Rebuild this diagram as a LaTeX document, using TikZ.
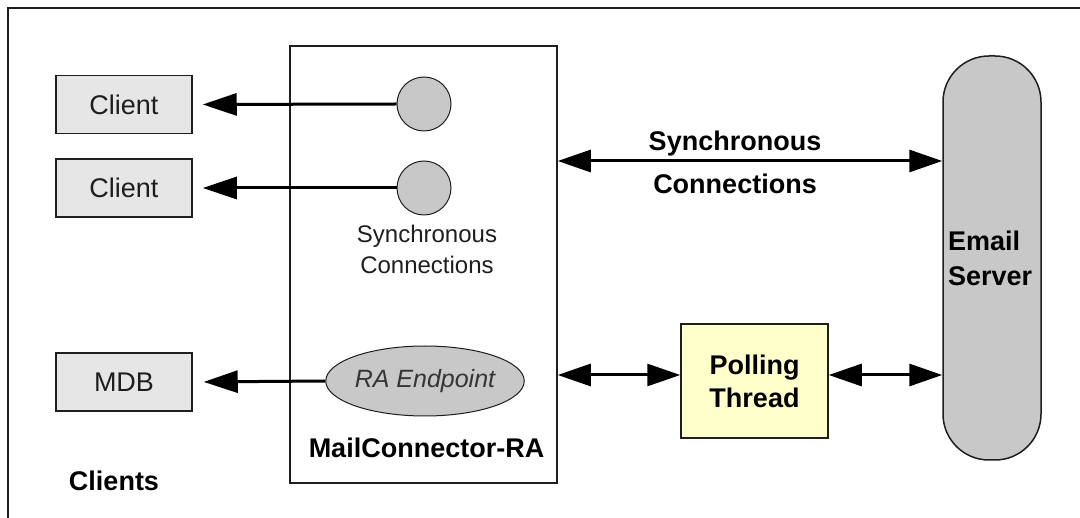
\documentclass[tikz,border=0pt]{standalone}
\usepackage{fontspec}
\setmainfont{Liberation Sans}
\usetikzlibrary{arrows.meta,shapes.geometric,calc}

\definecolor{boxgray}{HTML}{E6E6E6}
\definecolor{midgray}{HTML}{C8C8C8}
\definecolor{pale}{HTML}{FFFFCC}
\definecolor{ink}{HTML}{1E1E1E}

\begin{document}
\begin{tikzpicture}[x=1pt,y=-1pt,
  client/.style={draw=ink, line width=1.5pt, fill=boxgray, minimum width=136pt,
    minimum height=58pt, inner sep=0pt, text=ink, font=\fontsize{27}{32}\selectfont},
  port/.style={circle, draw=ink, line width=1pt, fill=midgray, minimum size=54pt, inner sep=0pt},
  boldlbl/.style={font=\bfseries\fontsize{27}{33}\selectfont, text=black, inner sep=0pt},
  conn/.style={line width=3pt, -{Triangle[length=34pt,width=22pt]}},
  dconn/.style={line width=3pt, {Triangle[length=33pt,width=22pt]}-{Triangle[length=33pt,width=22pt]}}
]
\useasboundingbox (0,0) rectangle (1080,518);

% outer frame (top and left edges)
\coordinate (fbl) at (8,518);
\coordinate (ftl) at (8,8);
\coordinate (ftr) at (1080,8);
\draw[line width=2pt, ink] (fbl) -- (ftl) -- (ftr);

% resource adapter container
\node[draw=ink, line width=1.5pt, fill=white, minimum width=267pt, minimum height=437pt,
  inner sep=0pt] (mc) at (423.5,264.5) {};

% clients
\node[client] (cl1) at (124,104.5) {Client};
\node[client] (cl2) at (124,188) {Client};
\node[client] (mdb) at (124,382) {MDB};
\node[boldlbl] (clients) at (114,481) {Clients};

% connection endpoints inside the adapter
\node[port] (p1) at (424,104) {};
\node[port] (p2) at (424,188) {};
\node[text=ink, align=center, inner sep=0pt, font=\fontsize{24}{31}\selectfont]
  (synclbl) at (427,249) {Synchronous\\Connections};
\node[ellipse, draw=ink, line width=1pt, fill=midgray, minimum width=186pt,
  minimum height=70pt, inner sep=0pt, text=ink!90, font=\itshape\fontsize{25}{30}\selectfont]
  (rae) at (425,381) {RA Endpoint};
\node[boldlbl] (mclbl) at (426.5,448) {MailConnector-RA};

% polling thread
\node[draw=ink, line width=1.5pt, fill=pale, minimum width=147pt, minimum height=114pt,
  inner sep=0pt, align=center, font=\bfseries\fontsize{27}{33}\selectfont]
  (poll) at (754.5,381) {Polling\\Thread};

% email server
\node[draw=ink, line width=1.5pt, fill=midgray, rounded corners=46pt, minimum width=98pt,
  minimum height=404pt, inner sep=0pt, text width=88pt, align=left,
  font=\bfseries\fontsize{27}{35}\selectfont]
  (es) at (992,258) {Email\\Server};

% synchronous connection label
\node[boldlbl, align=center, font=\bfseries\fontsize{27}{43}\selectfont]
  (synctop) at (735,162) {Synchronous\\Connections};

% connectors
\draw[conn, shorten >=10pt] (p1.west) -- (cl1.east);
\draw[conn, shorten >=10pt] (p2.west) -- (cl2.east);
\draw[conn, shorten >=11pt] (rae.west) -- (mdb.east);

\coordinate (sa) at (557,161);
\coordinate (pa) at (557,375);
\draw[dconn] (mc.east |- sa) -- (es.west |- sa);
\draw[dconn] (mc.east |- pa) -- (poll.west |- pa);
\draw[dconn] (poll.east |- pa) -- (es.west |- pa);
\end{tikzpicture}
\end{document}
